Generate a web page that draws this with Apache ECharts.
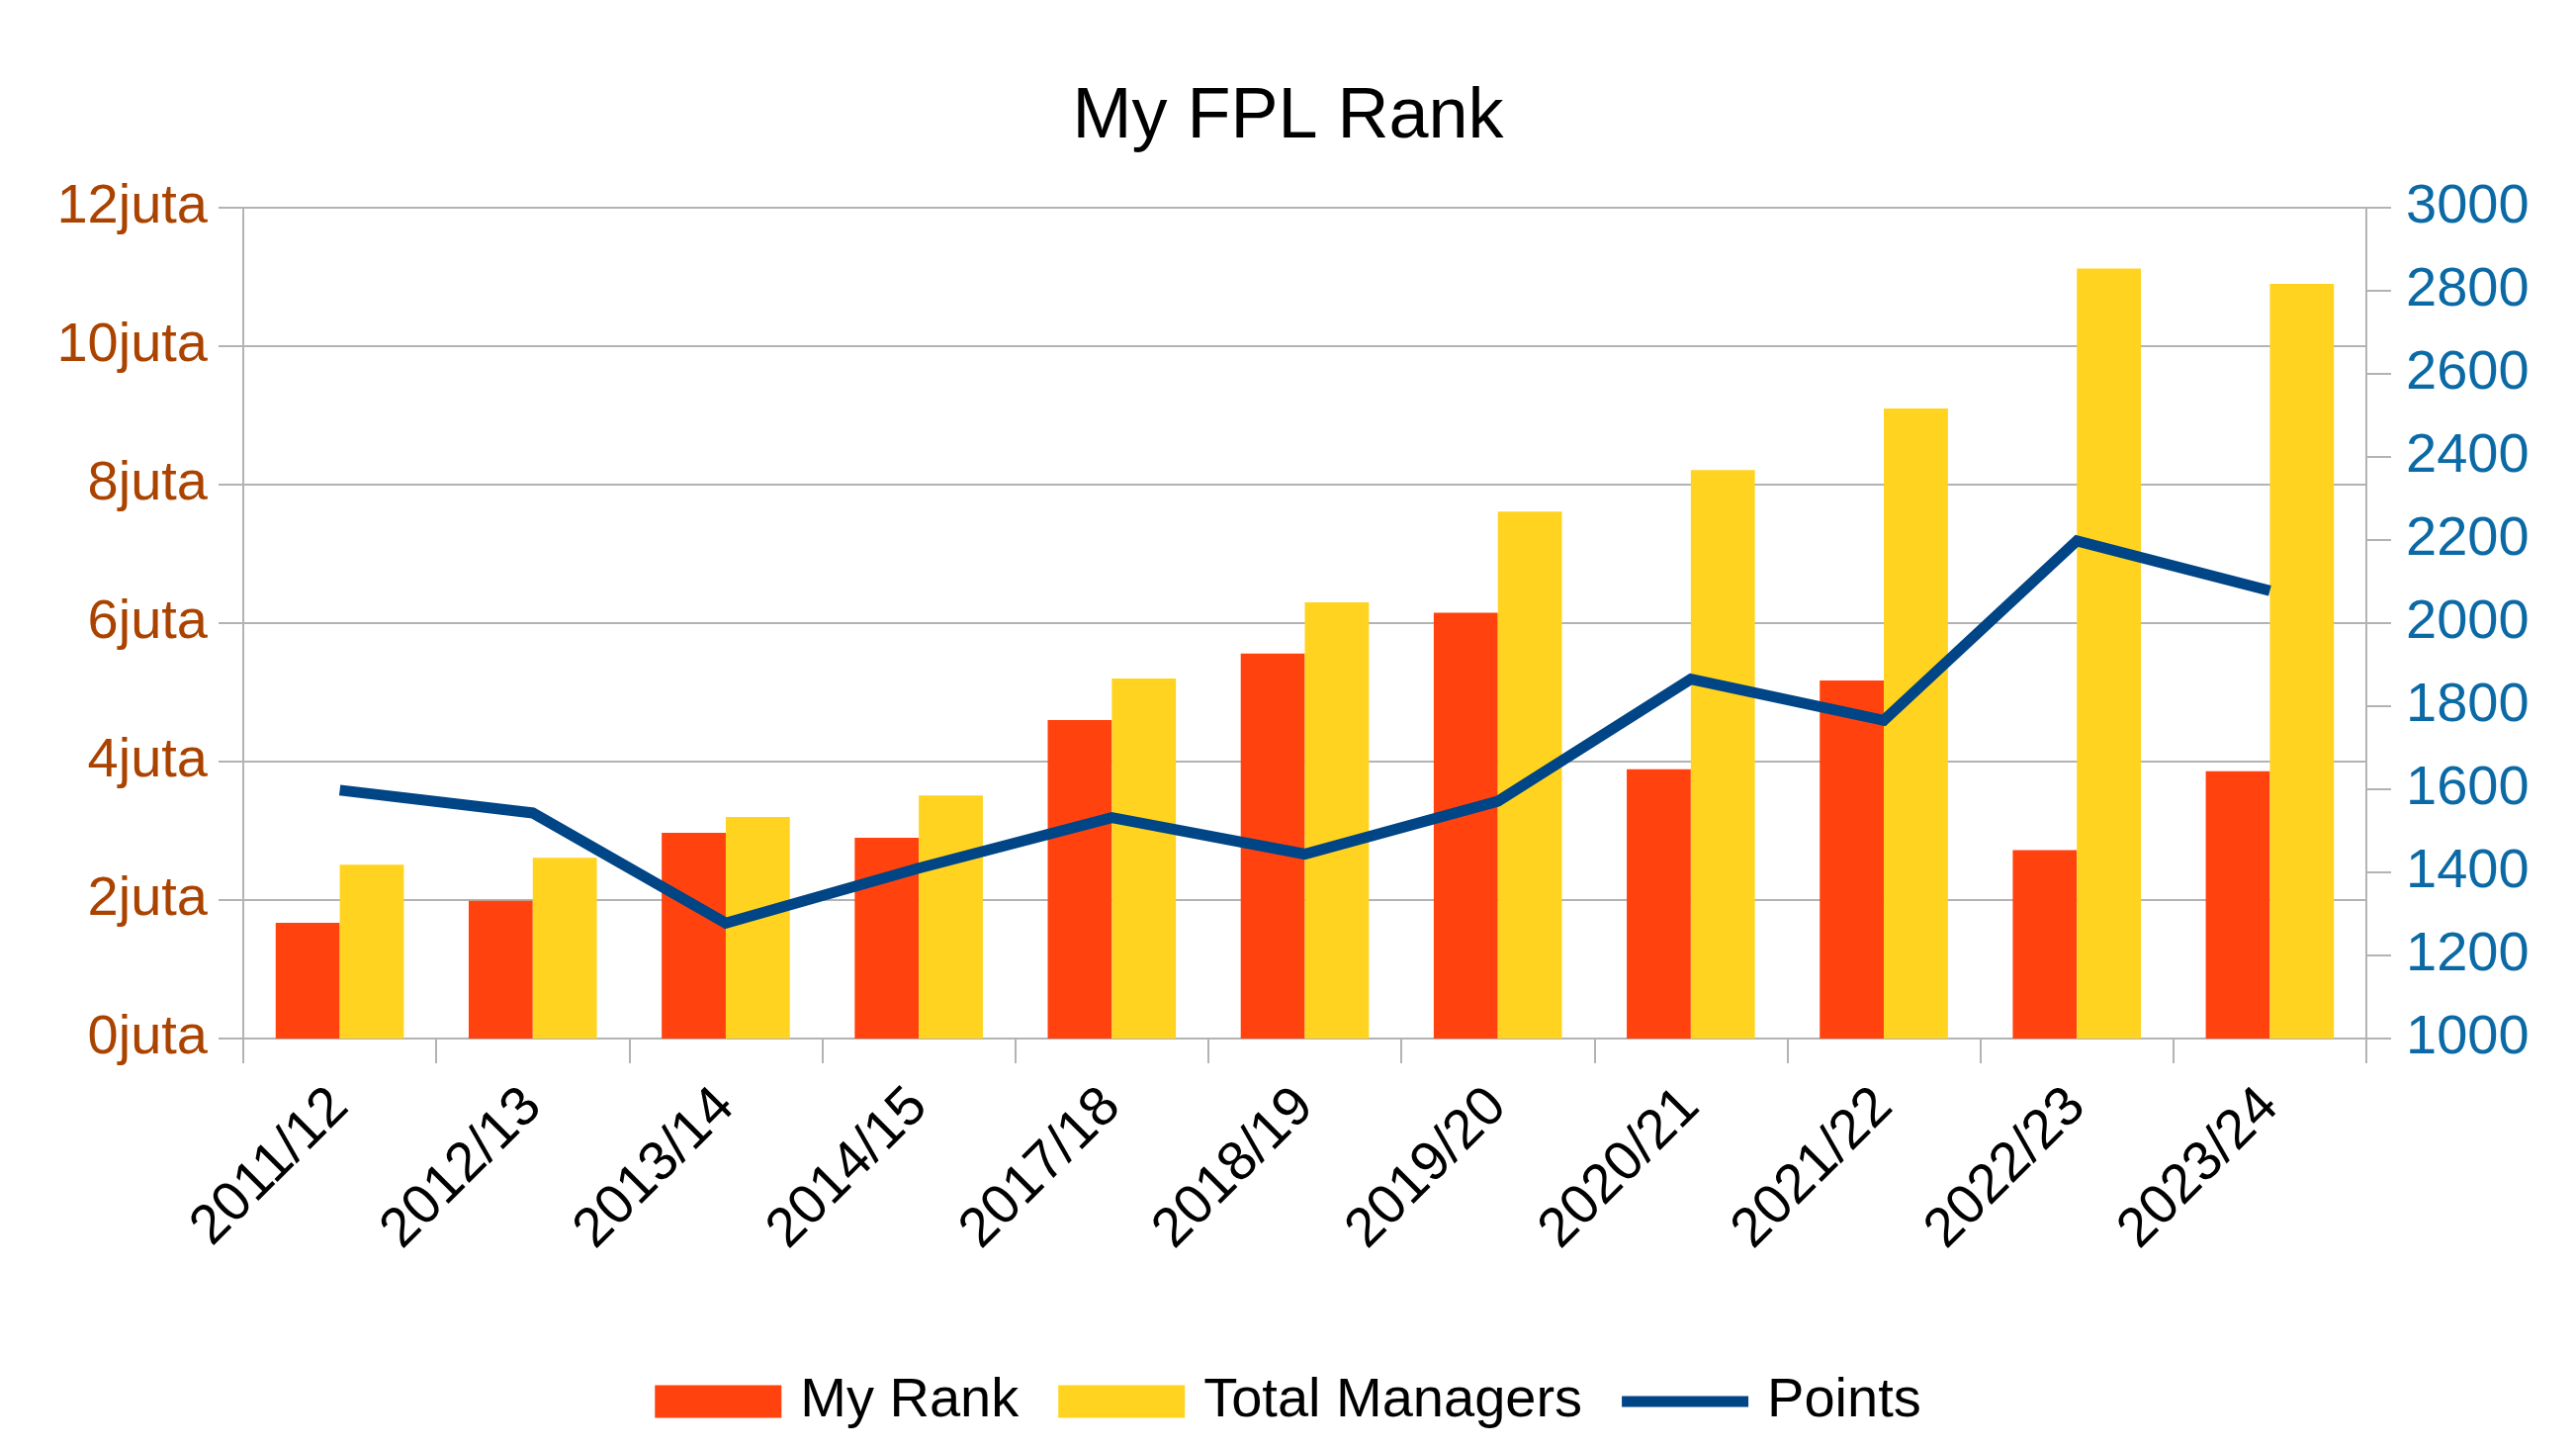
<!DOCTYPE html>
<html>
<head>
<meta charset="utf-8">
<script src="https://cdn.jsdelivr.net/npm/echarts@6/dist/echarts.min.js"></script>
<style>
html,body{margin:0;padding:0;background:#fff;}
#chart{width:2605px;height:1465px;}
</style>
</head>
<body>
<div id="chart"></div>
<script>
const categories = ['2011/12','2012/13','2013/14','2014/15','2017/18','2018/19','2019/20','2020/21','2021/22','2022/23','2023/24'];
const myRank = [1670000, 1990000, 2970000, 2900000, 4600000, 5560000, 6150000, 3890000, 5170000, 2720000, 3860000];
const totalManagers = [2510000, 2610000, 3200000, 3510000, 5200000, 6300000, 7610000, 8210000, 9100000, 11120000, 10900000];
const points = [1598, 1543, 1278, 1410, 1532, 1444, 1571, 1865, 1766, 2198, 2078];

const FONT = 'Liberation Sans';
const chart = echarts.init(document.getElementById('chart'), null, {renderer: 'canvas'});
chart.setOption({
  animation: false,
  backgroundColor: '#ffffff',
  textStyle: {fontFamily: FONT},
  title: {
    text: 'My FPL Rank',
    left: 'center',
    top: 78,
    textStyle: {fontFamily: FONT, fontSize: 72, fontWeight: 'normal', color: '#000000'}
  },
  legend: {
    bottom: 15,
    left: 'center',
    itemWidth: 128,
    itemHeight: 33,
    itemGap: 40,
    textStyle: {fontFamily: FONT, fontSize: 56, color: '#000000', padding: [0, 0, 0, 14]},
    data: [
      {name: 'My Rank', icon: 'rect'},
      {name: 'Total Managers', icon: 'rect'},
      {name: 'Points', icon: 'path://M0,0L128,0L128,11L0,11Z'}
    ]
  },
  grid: {left: 246, right: 212, top: 210, bottom: 415, containLabel: false},
  xAxis: {
    type: 'category',
    data: categories,
    boundaryGap: true,
    axisLine: {show: true, lineStyle: {color: '#b3b3b3', width: 2}},
    axisTick: {show: true, alignWithLabel: false, length: 25, lineStyle: {color: '#b3b3b3', width: 2}},
    axisLabel: {rotate: 45, margin: 60, fontFamily: FONT, fontSize: 56, color: '#000000', interval: 0}
  },
  yAxis: [
    {
      type: 'value',
      min: 0, max: 12000000, interval: 2000000,
      position: 'left',
      axisLine: {show: true, lineStyle: {color: '#b3b3b3', width: 2}},
      axisTick: {show: true, length: 25, lineStyle: {color: '#b3b3b3', width: 2}},
      splitLine: {show: true, lineStyle: {color: '#b3b3b3', width: 2}},
      axisLabel: {
        margin: 36, fontFamily: FONT, fontSize: 56, color: '#ab4300',
        formatter: v => (v / 1000000) + 'juta'
      }
    },
    {
      type: 'value',
      min: 1000, max: 3000, interval: 200,
      position: 'right',
      axisLine: {show: true, lineStyle: {color: '#b3b3b3', width: 2}},
      axisTick: {show: true, length: 25, lineStyle: {color: '#b3b3b3', width: 2}},
      splitLine: {show: false},
      axisLabel: {margin: 40, fontFamily: FONT, fontSize: 56, color: '#0b6aa5', formatter: v => String(v)}
    }
  ],
  series: [
    {
      name: 'My Rank', type: 'bar', yAxisIndex: 0, data: myRank,
      barGap: '0%', barCategoryGap: '33.6%',
      itemStyle: {color: '#ff420e'}
    },
    {
      name: 'Total Managers', type: 'bar', yAxisIndex: 0, data: totalManagers,
      barGap: '0%', barCategoryGap: '33.6%',
      itemStyle: {color: '#ffd320'}
    },
    {
      name: 'Points', type: 'line', yAxisIndex: 1, data: points,
      symbol: 'none', showSymbol: false, smooth: false,
      lineStyle: {color: '#004586', width: 11, cap: 'butt', join: 'miter'},
      itemStyle: {color: '#004586'},
      z: 5
    }
  ]
});
</script>
</body>
</html>
